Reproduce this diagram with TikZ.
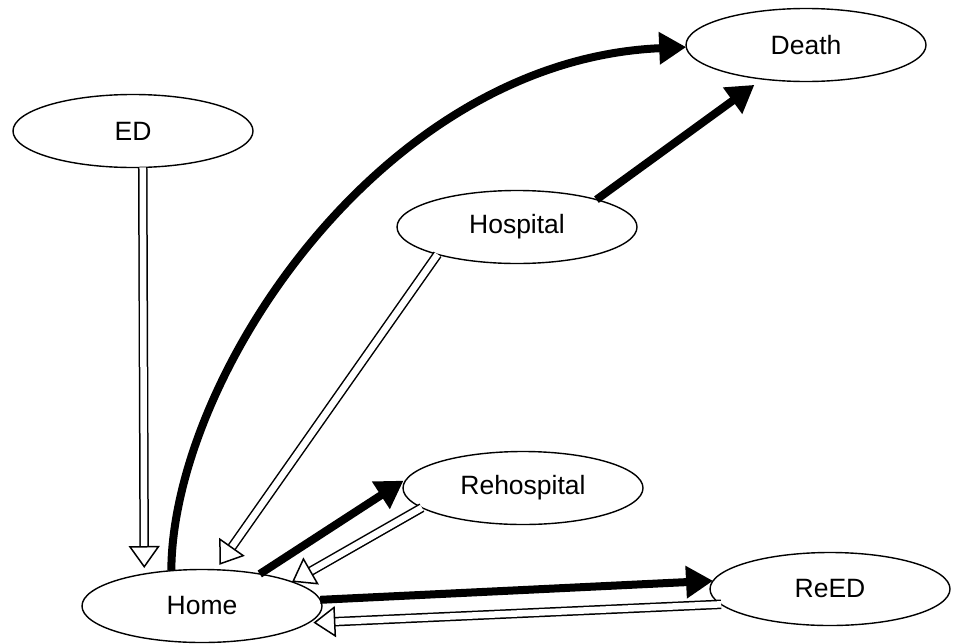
\documentclass[tikz,border=0pt]{standalone}
\usepackage{fontspec}
\setmainfont{Liberation Sans}
\usetikzlibrary{arrows.meta,shapes.geometric}
\begin{document}
\begin{tikzpicture}[x=1pt,y=-1pt,
  state/.style={ellipse, draw, line width=1.4pt, minimum width=240pt, minimum height=73pt,
    inner sep=0pt, outer sep=0pt, font=\fontsize{26.5}{30}\selectfont},
  thickarrow/.style={line width=8pt, -{Triangle[length=27pt,width=31pt]}},
  hollowarrow/.style={double, double distance=6.5pt, line width=1.5pt,
    -{Triangle[open, length=22pt, width=31pt, line width=1.5pt]}}
]
\useasboundingbox (0,0) rectangle (953,643);
\node[state] (death)  at (806,45)  {Death};
\node[state] (ed)     at (133,131) {ED};
\node[state] (hosp)   at (517,227) {Hospital};
\node[state] (rehosp) at (523,488) {Rehospital};
\node[state] (home)   at (202,606) {Home};
\node[state] (reed)   at (830,589) {ReED};

\draw[hollowarrow, shorten >=6pt] (ed.-75.4) -- (home.151.9);
\draw[thickarrow] (home.131.7) .. controls (172,380) and (380,60) .. (death.181);
\draw[thickarrow, shorten >=10pt] (hosp.19.9) -- (death.-142.3);
\draw[hollowarrow, shorten >=6pt] (hosp.199.3) -- (home.69.1);
\draw[thickarrow, shorten >=5pt] (home.29.5) -- (rehosp.175);
\draw[hollowarrow] (rehosp.191.9) -- (home.15);
\draw[thickarrow] (home.3.4) -- (reed.176);
\draw[hollowarrow, shorten >=5pt] (reed.188.9) -- (home.-9.05);
\end{tikzpicture}
\end{document}
